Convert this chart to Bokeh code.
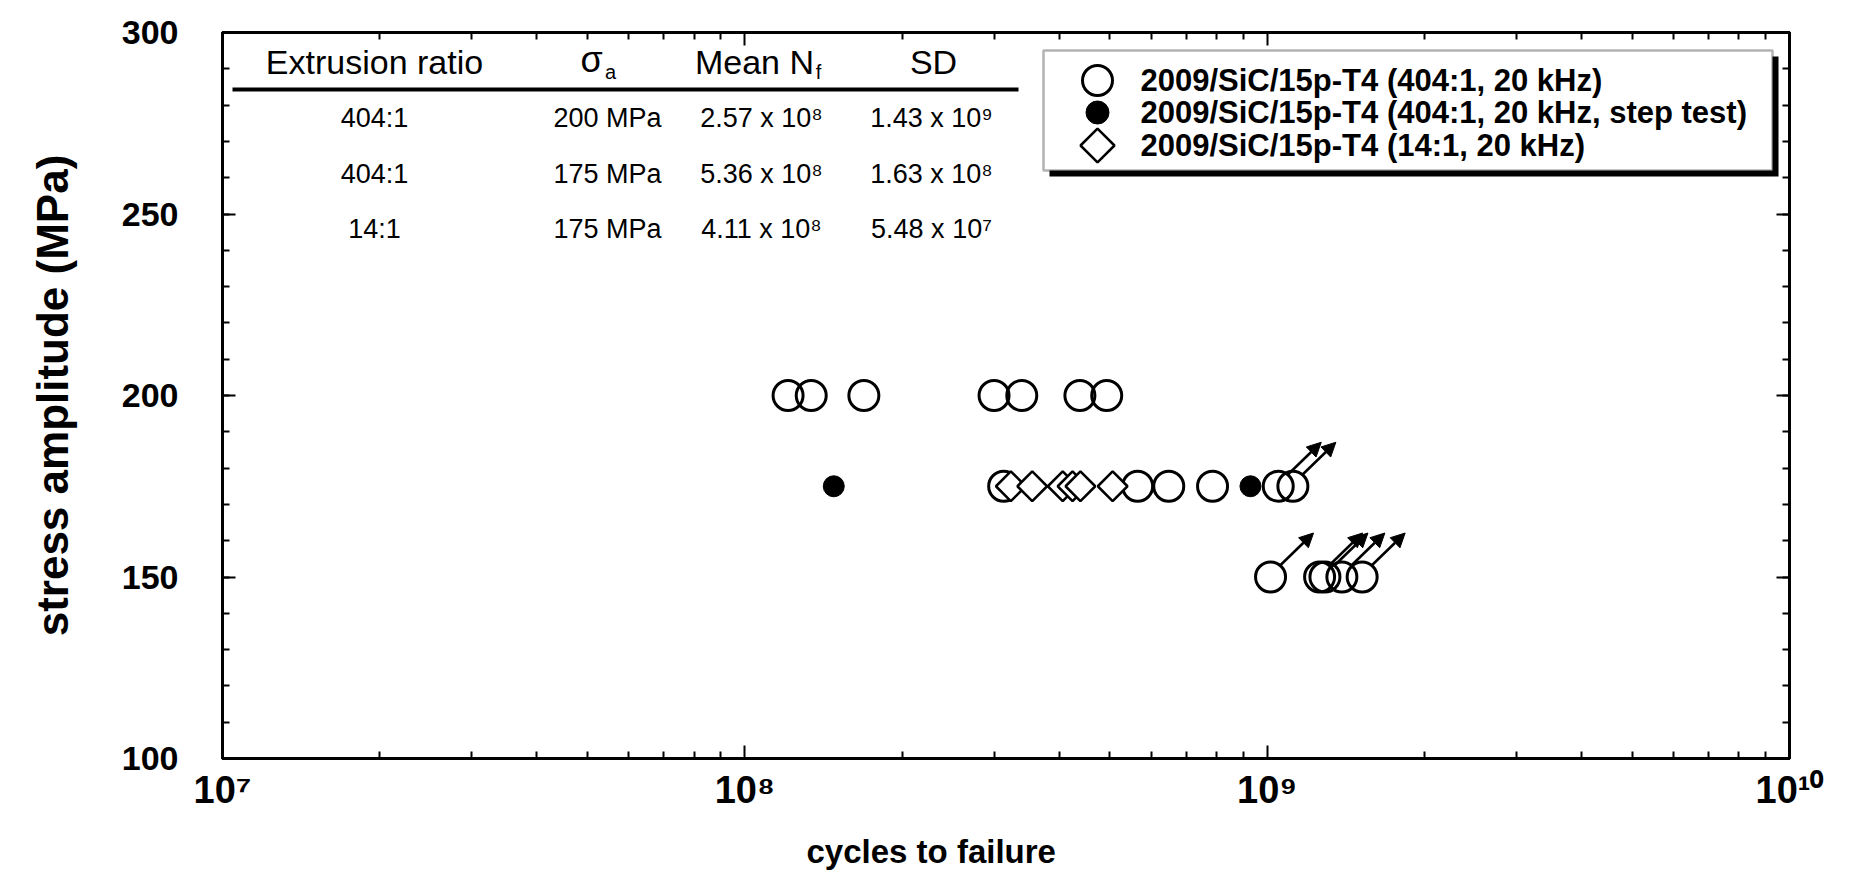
import numpy as np
from bokeh.plotting import figure
from bokeh.models import (LinearAxis, LogAxis, FixedTicker, Range1d, Label, BoxAnnotation,
                          ColumnDataSource, Arrow, NormalHead, Title)
from bokeh.embed import file_html
from bokeh.resources import INLINE

# ---------------- data ----------------
n200_404 = [1.21e8, 1.34e8, 1.69e8, 3.00e8, 3.39e8, 4.38e8, 4.93e8]
n175_404 = [3.13e8, 5.65e8, 6.48e8, 7.86e8]
n175_404_runout = [1.05e9, 1.12e9]
n150_404_runout = [1.015e9, 1.26e9, 1.29e9, 1.39e9, 1.52e9]
n175_step = [1.48e8, 9.29e8]
n175_14 = [3.23e8, 3.55e8, 4.06e8, 4.24e8, 4.39e8, 5.06e8]

table_header = ["Extrusion ratio", "σ", "Mean N", "SD"]
table_ratio = ["404:1", "404:1", "14:1"]
table_stress = ["200 MPa", "175 MPa", "175 MPa"]
table_mean = ["2.57 x 10⁸", "5.36 x 10⁸", "4.11 x 10⁸"]
table_sd = ["1.43 x 10⁹", "1.63 x 10⁸", "5.48 x 10⁷"]

legend_labels = ["2009/SiC/15p-T4 (404:1, 20 kHz)",
                 "2009/SiC/15p-T4 (404:1, 20 kHz, step test)",
                 "2009/SiC/15p-T4 (14:1, 20 kHz)"]

x_ticks = [1e7, 1e8, 1e9, 1e10]
x_tick_labels = ["10⁷", "10⁸", "10⁹", "10¹⁰"]
y_ticks = [100, 150, 200, 250, 300]

# ---------------- layout ----------------
W, H = 1849, 889
FL, FR, FT, FB = 222, 1789, 32, 758   # frame edges (canvas px)
XMIN, XMAX, YMIN, YMAX = 1e7, 1e10, 100, 300
ppd = (FR - FL) / (np.log10(XMAX) - np.log10(XMIN))
ppm = (FB - FT) / (YMAX - YMIN)

FONT = "Liberation Sans"

p = figure(width=W, height=H, x_axis_type="log",
           x_range=Range1d(XMIN, XMAX), y_range=Range1d(YMIN, YMAX),
           output_backend="svg", toolbar_location=None,
           min_border_left=FL, min_border_right=W - FR,
           min_border_top=FT, min_border_bottom=H - FB)
p.xgrid.visible = False
p.ygrid.visible = False
p.outline_line_color = "black"
p.outline_line_width = 3
p.background_fill_color = "white"
p.border_fill_color = "white"

minor_x = [m * 10.0 ** e for e in range(7, 10) for m in range(2, 10)]
minor_y = list(range(100, 301, 10))


def style_axis(ax, labels=True):
    ax.axis_line_color = "black"
    ax.axis_line_width = 3
    ax.major_tick_in = 13
    ax.major_tick_out = 0
    ax.minor_tick_in = 7
    ax.minor_tick_out = 0
    ax.major_tick_line_width = 2
    ax.minor_tick_line_width = 2
    ax.major_label_text_color = "black"
    ax.axis_label_text_color = "black"
    if not labels:
        ax.major_label_text_font_size = "2px"
        ax.major_label_text_alpha = 0
        ax.major_label_standoff = 0


xb = p.xaxis[0]
xb.ticker = FixedTicker(ticks=x_ticks, minor_ticks=minor_x)
xb.major_label_overrides = {t: l for t, l in zip(x_ticks, x_tick_labels)}
style_axis(xb)
xb.major_label_text_font = FONT
xb.major_label_text_font_style = "bold"
xb.major_label_text_font_size = "38px"
xb.major_label_standoff = 10

xt = LogAxis(ticker=FixedTicker(ticks=x_ticks, minor_ticks=minor_x))
style_axis(xt, labels=False)
p.add_layout(xt, "above")

yl = p.yaxis[0]
yl.ticker = FixedTicker(ticks=y_ticks, minor_ticks=minor_y)
yl.axis_label = "stress amplitude (MPa)"
style_axis(yl)
yl.major_label_text_font = FONT
yl.major_label_text_font_style = "bold"
yl.major_label_text_font_size = "34px"
yl.major_label_standoff = 44
yl.axis_label_text_font = FONT
yl.axis_label_text_font_style = "bold"
yl.axis_label_text_font_size = "44px"
yl.axis_label_standoff = 42

yr = LinearAxis(ticker=FixedTicker(ticks=y_ticks, minor_ticks=minor_y))
style_axis(yr, labels=False)
p.add_layout(yr, "right")

# x axis title, sitting left of centre as in the original
xtitle = Title(text="cycles to failure", align="left", offset=806 - FL,
               text_font=FONT, text_font_style="bold", text_font_size="33px",
               text_color="black", standoff=34)
p.add_layout(xtitle, "below")


def lab(text, cx, cy, size, style="normal", align="center"):
    p.add_layout(Label(x=cx - FL, y=FB - cy, x_units="screen", y_units="screen",
                       text=text, text_font=FONT, text_font_style=style,
                       text_font_size=f"{size}px", text_align=align,
                       text_baseline="middle", text_color="black"))


def box(l, r, t, b, **kw):
    p.add_layout(BoxAnnotation(left=l - FL, right=r - FL, top=FB - t, bottom=FB - b,
                               left_units="screen", right_units="screen",
                               top_units="screen", bottom_units="screen", **kw))


# ---------------- legend frame (under the glyphs) ----------------
LGL, LGR, LGT, LGB = 1043, 1772, 50, 170
SH = 6
box(LGL + SH, LGR + SH, LGT + SH, LGB + SH, fill_color="black", fill_alpha=1, line_alpha=0, level="underlay")
box(LGL, LGR, LGT, LGB, fill_color="white", fill_alpha=1, line_color="black", line_width=2.5, level="underlay")

# ---------------- data marks ----------------
circ = dict(marker="circle", size=30, fill_color=None, line_color="black", line_width=3)
diam = dict(marker="square", angle=np.pi / 4, size=21, fill_color="white", line_color="black", line_width=2.5)
dot = dict(marker="circle", size=21, fill_color="black", line_color="black")
p.scatter(n200_404, [200] * len(n200_404), **circ)
p.scatter(n175_404, [175] * len(n175_404), **circ)
p.scatter(n175_404_runout, [175] * len(n175_404_runout), **circ)
p.scatter(n150_404_runout, [150] * len(n150_404_runout), **circ)
p.scatter(n175_14, [175] * len(n175_14), **diam)
p.scatter(n175_step, [175] * len(n175_step), **dot)

# run-out arrows
run_n = n175_404_runout + n150_404_runout
run_s = [175] * len(n175_404_runout) + [150] * len(n150_404_runout)
dx0, dy0, dx1, dy1 = 10, 12, 43, 44
src = ColumnDataSource(dict(
    x0=[n * 10 ** (dx0 / ppd) for n in run_n], y0=[s + dy0 / ppm for s in run_s],
    x1=[n * 10 ** (dx1 / ppd) for n in run_n], y1=[s + dy1 / ppm for s in run_s]))
p.add_layout(Arrow(end=NormalHead(size=14, fill_color="black", line_color="black"),
                   x_start="x0", y_start="y0", x_end="x1", y_end="y1",
                   source=src, line_width=2.5, line_color="black"))

# ---------------- inset table ----------------
hdr_y = 61
row_y = [117, 173, 228]
lab(table_header[0], 374, hdr_y, 34)
lab(table_header[1], 591, hdr_y - 2, 36)
lab("a", 610, hdr_y + 10, 20)
lab(table_header[2], 754, hdr_y, 34)
lab("f", 818, hdr_y + 10, 20)
lab(table_header[3], 933, hdr_y, 34)
box(232, 1018, 87, 91, fill_color="black", fill_alpha=1, line_alpha=0)
for i in range(3):
    lab(table_ratio[i], 374, row_y[i], 27)
    lab(table_stress[i], 607, row_y[i], 27)
    lab(table_mean[i], 761, row_y[i], 27)
    lab(table_sd[i], 931, row_y[i], 27)

# ---------------- legend entries ----------------
leg_y = [80, 112, 145]
mk_x = 1097
to_n = lambda cx: 10 ** (np.log10(XMIN) + (cx - FL) / ppd)
to_s = lambda cy: YMIN + (FB - cy) / ppm
p.scatter([to_n(mk_x)], [to_s(leg_y[0])], **circ)
p.scatter([to_n(mk_x)], [to_s(leg_y[1])], **dict(dot, size=23))
p.scatter([to_n(mk_x)], [to_s(leg_y[2])], **dict(diam, size=24))
for t, yy in zip(legend_labels, leg_y):
    lab(t, 1140, yy, 31, style="bold", align="left")

open("out.html", "w").write(file_html(p, INLINE))
